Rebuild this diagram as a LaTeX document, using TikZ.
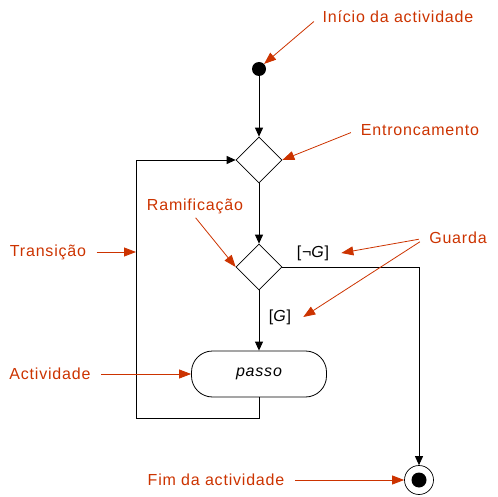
\documentclass[tikz,border=0pt]{standalone}
\usepackage{fontspec}
\setmainfont{Liberation Sans}[LetterSpace=5]
\usetikzlibrary{arrows.meta,shapes.geometric}
\definecolor{nota}{RGB}{204,51,0}

\begin{document}
\begin{tikzpicture}[x=1pt, y=-1pt,
  font=\fontsize{16}{19}\selectfont,
  inicio/.style={circle, fill, minimum size=14pt, inner sep=0pt},
  fimst/.style={circle, draw, line width=0.7pt, minimum size=29pt, inner sep=0pt,
                path picture={\fill (path picture bounding box.center) circle (7.5pt);}},
  decisao/.style={draw, diamond, line width=0.7pt, minimum size=46pt, inner sep=0pt},
  accao/.style={draw, line width=0.8pt, rounded corners=21pt, minimum width=135pt,
                minimum height=46pt, font=\fontsize{16}{19}\selectfont\itshape},
  guarda/.style={inner xsep=12pt},
  flow/.style={draw, line width=0.9pt, -{Triangle[length=9pt, width=8pt]}},
  nota/.style={text=nota},
  seta/.style={draw=nota, line width=0.8pt, shorten <=7pt,
               -{Triangle[length=12pt, width=9pt]}}
]
  \useasboundingbox (0,0) rectangle (498,497);

  \node[inicio]  (start)  at (259,69)  {};
  \node[decisao] (fork)   at (259,160) {};
  \node[decisao] (branch) at (259,267) {};
  \node[accao]   (passo)  at (259,374) {passo};
  \node[fimst]   (fim)    at (419,480) {};
  \coordinate    (canto)  at (136,418);

  \node[guarda] (gNeg) at (313,253) {[¬\textit{G}]};
  \node[guarda] (gPos) at (280,317) {[\textit{G}]};

  \node[nota] (lInicio) at (398,17)  {Início da actividade};
  \node[nota] (lEntr)   at (420,130) {Entroncamento};
  \node[nota] (lRamif)  at (195,206) {Ramificação};
  \node[nota] (lTrans)  at (48,252)  {Transição};
  \node[nota] (lGuarda) at (458,238) {Guarda};
  \node[nota] (lActiv)  at (50,374)  {Actividade};
  \node[nota] (lFim)    at (216,480) {Fim da actividade};

  \draw[flow] (start) -- (fork);
  \draw[flow] (fork) -- (branch);
  \draw[flow] (branch) -- (passo);
  \draw[flow] (branch.east) -| (fim);
  \draw[flow] (passo.south) |- (canto) |- (fork.west);

  \draw[seta] (lInicio.west) -- (start.north east);
  \draw[seta] (lEntr.west) -- (fork.east);
  \draw[seta, shorten <=1pt] (lRamif.south) -- (branch.west);
  \draw[seta] (lTrans.east) -- (lTrans -| canto);
  \draw[seta] (lGuarda.west) -- (gNeg.east);
  \draw[seta] (lGuarda.west) -- (gPos.east);
  \draw[seta] (lActiv.east) -- (passo.west);
  \draw[seta] (lFim.east) -- (fim.west);
\end{tikzpicture}
\end{document}
